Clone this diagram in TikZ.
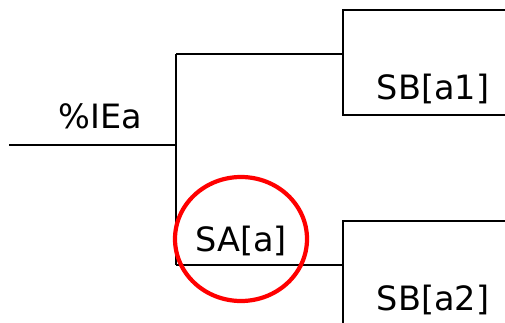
\documentclass[tikz,border=0pt]{standalone}
\usepackage{fontspec}
\setmainfont{DejaVu Sans}
\usetikzlibrary{positioning}
\tikzset{
  wire/.style={line width=1.8pt, draw=black},
  lab/.style={font=\fontsize{33.5}{33.5}\selectfont, inner sep=0pt, anchor=base, text=black},
  ring/.style={draw=red, line width=4.2pt},
}

\begin{document}
\begin{tikzpicture}[x=1pt, y=-1pt]
  \useasboundingbox (0,0) rectangle (505,323);
  % stem and fork
  \coordinate (in) at (9,145);
  \coordinate (fork) at (176,145);
  \coordinate (forkT) at (176,54);
  \coordinate (forkB) at (176,265);
  % branch brackets
  \coordinate (bT) at (343,54);
  \coordinate (bTtop) at (343,10);
  \coordinate (bTbot) at (343,115);
  \coordinate (bB) at (343,265);
  \coordinate (bBtop) at (343,221);
  \coordinate (bBend) at (343,323);
  \coordinate (eT1) at (505,10);
  \coordinate (eT2) at (505,115);
  \coordinate (eB1) at (505,221);

  \draw[wire] (in) -- (fork);
  \draw[wire] (forkT) -- (forkB);
  \draw[wire] (forkT) -- (bT);
  \draw[wire] (forkB) -- (bB);
  \draw[wire] (eT1) -- (bTtop) -- (bTbot) -- (eT2);
  \draw[wire] (eB1) -- (bBtop) -- (bBend);

  \node[lab] (root) at (100,129) {\%IEa};
  \node[lab] (sa) at (241,251) {SA[a]};
  \node[lab] (sb1) at (433,100) {SB[a1]};
  \node[lab] (sb2) at (433,310) {SB[a2]};

  % highlight
  \coordinate (mark) at (241,239);
  \draw[ring] (mark) ellipse [x radius=66, y radius=62];
\end{tikzpicture}
\end{document}
